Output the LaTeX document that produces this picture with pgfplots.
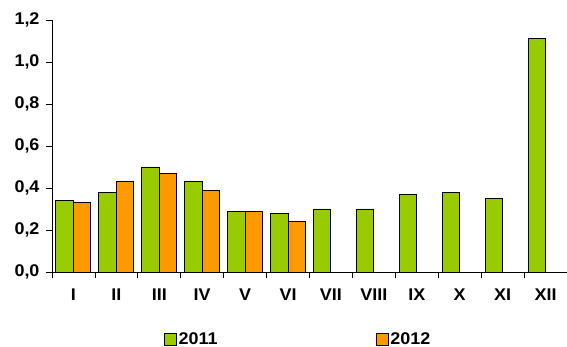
\documentclass[border=0pt]{standalone}
\usepackage{pgfplots}
\pgfplotsset{compat=1.18}
\usepackage{fontspec}
\setmainfont{Liberation Sans}[FakeStretch=1.06]
\definecolor{cgreen}{HTML}{99CC00}
\definecolor{corange}{HTML}{FF9900}
\begin{document}
\begin{tikzpicture}
\useasboundingbox (0,0) rectangle (567bp,347bp);
\begin{axis}[
  at={(52bp,75bp)}, anchor=south west,
  scale only axis, width=515bp, height=252bp,
  ybar=0pt, bar width=17.5bp,
  xmin=-0.5, xmax=11.5, ymin=0, ymax=1.2,
  axis x line=bottom, axis y line=left,
  axis line style={-, line width=0.8pt},
  xtick={0,...,11},
  xticklabels={I,II,III,IV,V,VI,VII,VIII,IX,X,XI,XII},
  minor xtick={-0.5,0.5,...,10.5},
  major x tick style={draw=none},
  minor x tick style={line width=0.8pt, black},
  minor tick length=6bp,
  ytick={0,0.2,...,1.2},
  y tick style={line width=0.8pt, black},
  major tick length=6bp,
  tick align=outside,
  /pgf/number format/assume math mode=true,
  tick label style={font=\bfseries\fontsize{17}{20}\selectfont},
  yticklabel style={xshift=-3bp, /pgf/number format/.cd, fixed, fixed zerofill, precision=1, use comma},
  xticklabel style={yshift=-7bp},
  legend columns=2,
  legend style={draw=none, fill=none, at={(0.478,-0.266)}, anchor=center,
    font=\bfseries\fontsize{17}{20}\selectfont, inner sep=0pt,
    /tikz/every even column/.append style={column sep=156bp}},
  legend image code/.code={\draw[#1, line width=0.8pt] (0bp,-6bp) rectangle (12bp,6bp);},
]
\addplot[fill=cgreen, draw=black, line width=1pt, bar shift=-8.75bp] coordinates {
(0,0.34) (1,0.38) (2,0.50) (3,0.43) (4,0.29) (5,0.28) (6,0.30) (7,0.30) (8,0.37) (9,0.38) (10,0.35) (11,1.11)};
\addplot[fill=corange, draw=black, line width=1pt, bar shift=8.75bp] coordinates {
(0,0.33) (1,0.43) (2,0.47) (3,0.39) (4,0.29) (5,0.24)};
\legend{2011,2012}
\end{axis}
\end{tikzpicture}
\end{document}
